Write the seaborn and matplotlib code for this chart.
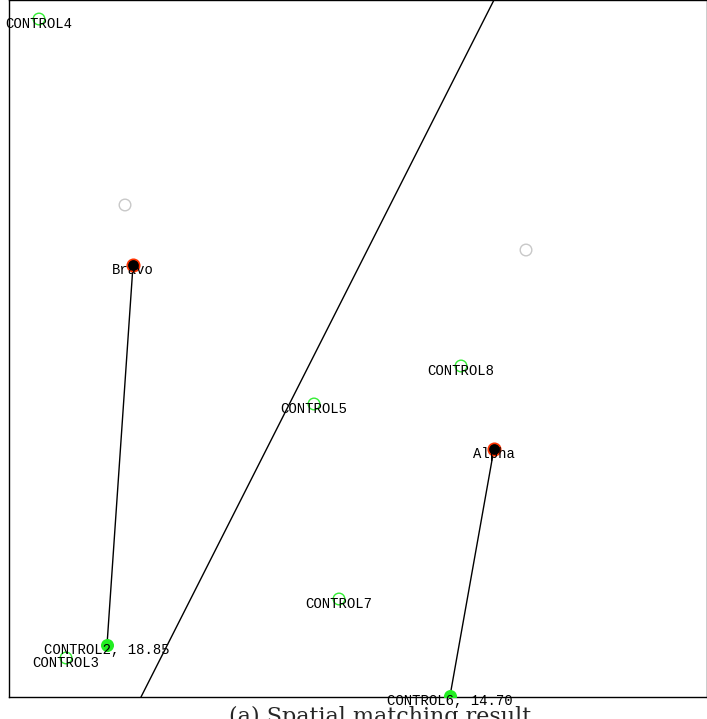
import matplotlib
matplotlib.use("Agg")
import matplotlib.pyplot as plt
import seaborn as sns
import pandas as pd

# Unit positions (plot coordinates, 0-100 on each axis)
names = ["CONTROL4", "CONTROL8", "CONTROL5", "CONTROL7", "CONTROL3",
         "CONTROL2", "CONTROL6", "Bravo", "Alpha", "", ""]
xs = [4.30, 64.76, 43.70, 47.28, 8.17, 14.04, 63.18, 17.77, 69.48, 16.62, 74.07]
ys = [97.27, 47.49, 42.04, 14.06, 5.60, 7.46, 0.14, 61.98, 35.58, 70.59, 64.13]
kinds = ["control", "control", "control", "control", "control",
         "matched", "matched", "treated", "treated", "other", "other"]

# Treated unit -> matched control, with distance
pairs = [("Bravo", "CONTROL2", 18.85), ("Alpha", "CONTROL6", 14.70)]

# Separating boundary through two points
boundary_x = [18.91, 69.48]
boundary_y = [0.0, 100.0]

caption = "(a) Spatial matching result"

df = pd.DataFrame({"name": names, "x": xs, "y": ys, "kind": kinds})
dist = {c: d for _, c, d in pairs}

sns.set_style("white")
fig = plt.figure(figsize=(7.07, 7.19), dpi=100)
ax = fig.add_axes([9 / 707, 22 / 719, 698 / 707, 697 / 719])

# boundary line
sns.lineplot(x=boundary_x, y=boundary_y, ax=ax, color="black", lw=1.0,
             estimator=None, sort=False)

# pair links
pos = df.set_index("name")
for t, c, d in pairs:
    seg = pd.DataFrame({"x": [pos.loc[t, "x"], pos.loc[c, "x"]],
                        "y": [pos.loc[t, "y"], pos.loc[c, "y"]]})
    sns.lineplot(data=seg, x="x", y="y", ax=ax, color="black", lw=1.0,
                 estimator=None, sort=False)

styles = {
    "control": dict(facecolor="none", edgecolor="#33ee33", s=70, linewidth=1.0),
    "matched": dict(color="#22ee22", edgecolor="#22ee22", s=70, linewidth=1.0),
    "treated": dict(color="black", edgecolor="#ff3300", s=80, linewidth=1.2),
    "other": dict(facecolor="none", edgecolor="#c8c8c8", s=70, linewidth=1.0),
}
for k, st in styles.items():
    sub = df[df["kind"] == k]
    sns.scatterplot(data=sub, x="x", y="y", ax=ax, zorder=3, legend=False, **st)

for _, r in df.iterrows():
    if not r["name"]:
        continue
    label = r["name"]
    if r["name"] in dist:
        label = f"{r['name']}, {dist[r['name']]:.2f}"
    ax.annotate(label, (r["x"], r["y"]), xytext=(0, -5),
                textcoords="offset pixels", ha="center", va="center",
                fontsize=10, family=["Liberation Mono", "DejaVu Sans Mono"],
                color="black", zorder=4)

ax.set_xlim(0, 100)
ax.set_ylim(0, 100)
ax.set_xticks([])
ax.set_yticks([])
ax.set_xlabel("")
ax.set_ylabel("")
for s in ax.spines.values():
    s.set_visible(True)
    s.set_color("black")
    s.set_linewidth(1.0)

fig.text(380 / 707, 1 - 706 / 719, caption, ha="center", va="top",
         fontsize=16, family="DejaVu Serif")

fig.savefig("out.png", dpi=100)
